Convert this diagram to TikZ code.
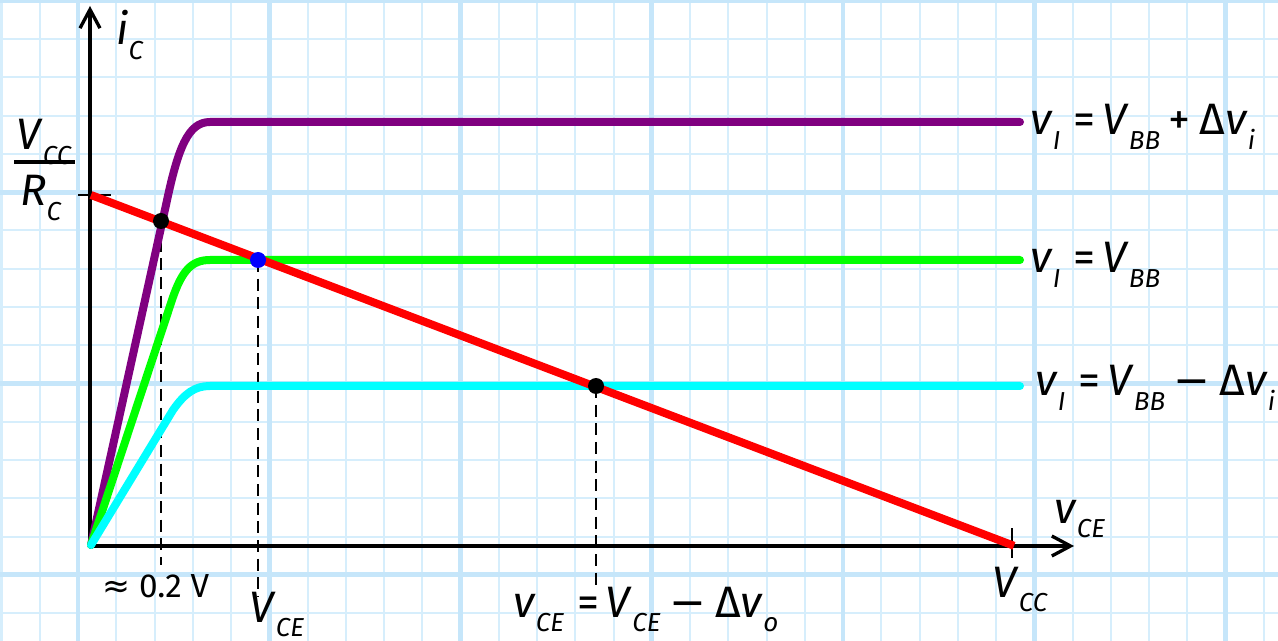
\documentclass[tikz,border=0pt]{standalone}
\usepackage{fontspec}
\setmainfont{Fira Sans}
\newfontfamily\symf{DejaVu Sans}
\usetikzlibrary{arrows.meta}
\definecolor{gridthin}{RGB}{214,238,252}
\definecolor{gridthick}{RGB}{198,230,250}
\definecolor{cpurple}{RGB}{128,0,128}
\definecolor{cgreen}{RGB}{0,255,0}
\definecolor{ccyan}{RGB}{0,255,255}
\definecolor{cred}{RGB}{255,0,0}
\definecolor{cblue}{RGB}{0,0,255}
\newcommand{\lsub}[1]{\raisebox{-0.32em}{\fontsize{19.5pt}{19.5pt}\selectfont\itshape #1}}
\newcommand{\iv}[1]{\textit{#1}}
\newcommand{\opeq}{\hspace{0.3em}=\hspace{0.15em}}
\newcommand{\oppl}{\hspace{0.2em}+\hspace{0.2em}}
\newcommand{\opmi}{\hspace{0.2em}{\symf −}\hspace{0.2em}}
\begin{document}
\begin{tikzpicture}[x=0.75pt,y=-0.75pt,
  lbl/.style={inner sep=0pt,anchor=base west,font=\fontsize{33pt}{33pt}\selectfont},
  curve/.style={line width=6pt,line cap=round,line join=round},
  axis/.style={line width=2.5pt,-{Straight Barb[length=14pt,width=15pt,line width=2.5pt]}},
  tick/.style={line width=2pt},
  guide/.style={line width=2.2pt,dash pattern=on 9pt off 5pt},
  dot/.style={circle,inner sep=0pt,minimum size=12pt}]
\useasboundingbox (0,0) rectangle (1278,641);
\fill[white] (0,0) rectangle (1278,641);
% grid
\begin{scope}
\clip (0,0) rectangle (1278,641);
\foreach \k in {-2,...,31} \draw[gridthin,line width=1.5pt] ({78+38.25*\k},0) -- ({78+38.25*\k},641);
\foreach \k in {0,...,16} \draw[gridthin,line width=1.5pt] (0,{1+38.25*\k}) -- (1278,{1+38.25*\k});
\foreach \k in {0,...,6} \draw[gridthick,line width=3.5pt] ({78+191.25*\k},0) -- ({78+191.25*\k},641);
\foreach \k in {0,...,3} \draw[gridthick,line width=3.5pt] (0,{1+191.25*\k}) -- (1278,{1+191.25*\k});
\end{scope}
% coordinates
\coordinate (O) at (90,546);
\coordinate (ytop) at (90,6);
\coordinate (xend) at (1074,546);
\coordinate (icept) at (91,195);
\coordinate (vcc) at (1012,545);
\coordinate (Q1) at (161,221);
\coordinate (Q0) at (258,260);
\coordinate (Q2) at (596,386);
\coordinate (Q1b) at (161,565);
\coordinate (Q0b) at (258,597);
\coordinate (Q2b) at (596,586);
% axes
\draw[axis] (O) -- (ytop);
\draw[axis] (O) -- (xend);
\draw[tick] (78,195) -- (111,195);
\draw[tick] (1012,528) -- (1012,558);
% dashed guides
\draw[guide] (Q1) -- (Q1b);
\draw[guide] (Q0) -- (Q0b);
\draw[guide] (Q2) -- (Q2b);
% characteristic curves
\draw[curve,cpurple] (91,545) -- (166,205) .. controls (178,148) and (188,122) .. (210,122) -- (1020,122);
\draw[curve,cgreen] (91,545) -- (172,300) .. controls (182,270) and (192,260) .. (210,260) -- (1020,260);
\draw[curve,ccyan] (91,545) -- (173,410) .. controls (185,393) and (195,386) .. (210,386) -- (1020,386);
% load line
\draw[curve,cred,line cap=butt] (icept) -- (1014,545.8);
% operating points
\node[dot,fill=black] (P1) at (Q1) {};
\node[dot,fill=cblue] (P0) at (Q0) {};
\node[dot,fill=black] (P2) at (Q2) {};
% labels
\node[lbl] (lic) at (116,45) {\iv{i}\lsub{C}};
\node[lbl] (lvcc1) at (16,150) {\iv{V}\lsub{CC}};
\draw[line width=2.5pt] (14,162) -- (75,162);
\node[lbl] (lrc) at (20,206) {\iv{R}\lsub{C}};
\node[lbl] (l1) at (1030,135) {\iv{v}\lsub{I}\opeq\iv{V}\lsub{BB}\oppl Δ\iv{v}\lsub{i}};
\node[lbl] (l2) at (1030,273) {\iv{v}\lsub{I}\opeq\iv{V}\lsub{BB}};
\node[lbl] (l3) at (1035,396) {\iv{v}\lsub{I}\opeq\iv{V}\lsub{BB}\opmi Δ\iv{v}\lsub{i}};
\node[lbl] (lvce) at (1054,523) {\iv{v}\lsub{CE}};
\node[lbl] (lvcc2) at (992,597) {\iv{V}\lsub{CC}};
\node[lbl] (lVce) at (249,622) {\iv{V}\lsub{CE}};
\node[lbl] (lq2) at (513,617) {\iv{v}\lsub{CE}\opeq\iv{V}\lsub{CE}\opmi Δ\iv{v}\lsub{o}};
\node[inner sep=0pt,anchor=base west,font=\fontsize{25pt}{25pt}\selectfont] (l02) at (102,597) {{\symf ≈} 0.2 V};
\end{tikzpicture}
\end{document}
